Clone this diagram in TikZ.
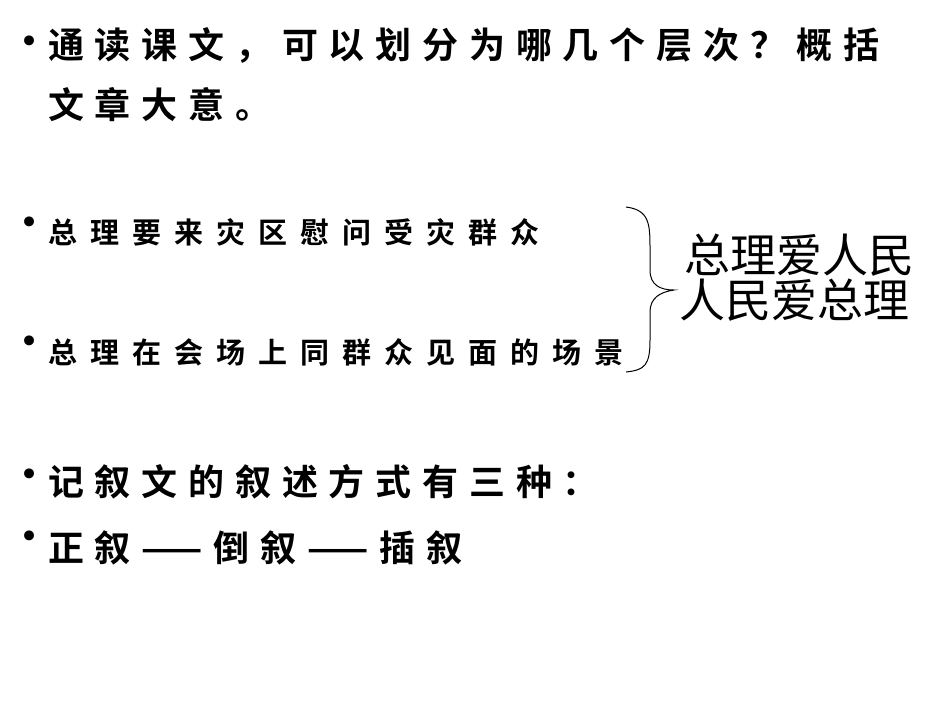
\documentclass[tikz,border=0pt]{standalone}
\usepackage{fontspec}
\newfontfamily\cjk[BoldFont={Noto Sans CJK SC Bold}]{Noto Sans CJK SC}
\newfontfamily\cjkA[LetterSpace=30,BoldFont={Noto Sans CJK SC Bold}]{Noto Sans CJK SC}
\newfontfamily\cjkB[LetterSpace=45,BoldFont={Noto Sans CJK SC Bold}]{Noto Sans CJK SC}
\newfontfamily\dejav{DejaVu Sans}
\begin{document}
\begin{tikzpicture}[x=1pt,y=-1pt,
  bul/.style={inner sep=0pt,font=\dejav\fontsize{34}{34}\selectfont},
  big/.style={anchor=west,inner sep=0pt,font=\cjkA\bfseries\fontsize{36}{36}\selectfont},
  mid/.style={anchor=west,inner sep=0pt,font=\cjkB\bfseries\fontsize{29}{29}\selectfont},
  side/.style={anchor=west,inner sep=0pt,font=\cjk\fontsize{46}{46}\selectfont}]
\useasboundingbox[fill=white] (0,0) rectangle (950,713);
\node[bul] (b1) at (30,45) {•};
\node[big] (t1) at (48,45) {通读课文，可以划分为哪几个层次？概括};
\node[big] (t1b) at (48,105) {文章大意。};
\node[bul] (b2) at (30,226) {•};
\node[mid] (t2) at (48,232) {总理要来灾区慰问受灾群众};
\node[bul] (b3) at (30,345) {•};
\node[mid] (t3) at (48,352) {总理在会场上同群众见面的场景};
\node[side] (s1) at (684,255) {总理爱人民};
\node[side] (s2) at (679,300) {人民爱总理};
\coordinate (bt) at (626,207);
\coordinate (bb) at (626,372);
\coordinate (tip) at (674,290);
\draw[line width=1pt] (bt) .. controls (650,210) and (650,225) .. (650,250)
  -- (650,270) .. controls (650,285) and (660,290) .. (tip)
  .. controls (660,292) and (650,298) .. (650,312) -- (650,340)
  .. controls (650,365) and (645,370) .. (bb);
\node[bul] (b4) at (30,478) {•};
\node[big] (t4) at (48,482) {记叙文的叙述方式有三种：};
\node[bul] (b5) at (30,540) {•};
\node[big] (t5) at (48,548) {正叙——倒叙——插叙};
\end{tikzpicture}
\end{document}
